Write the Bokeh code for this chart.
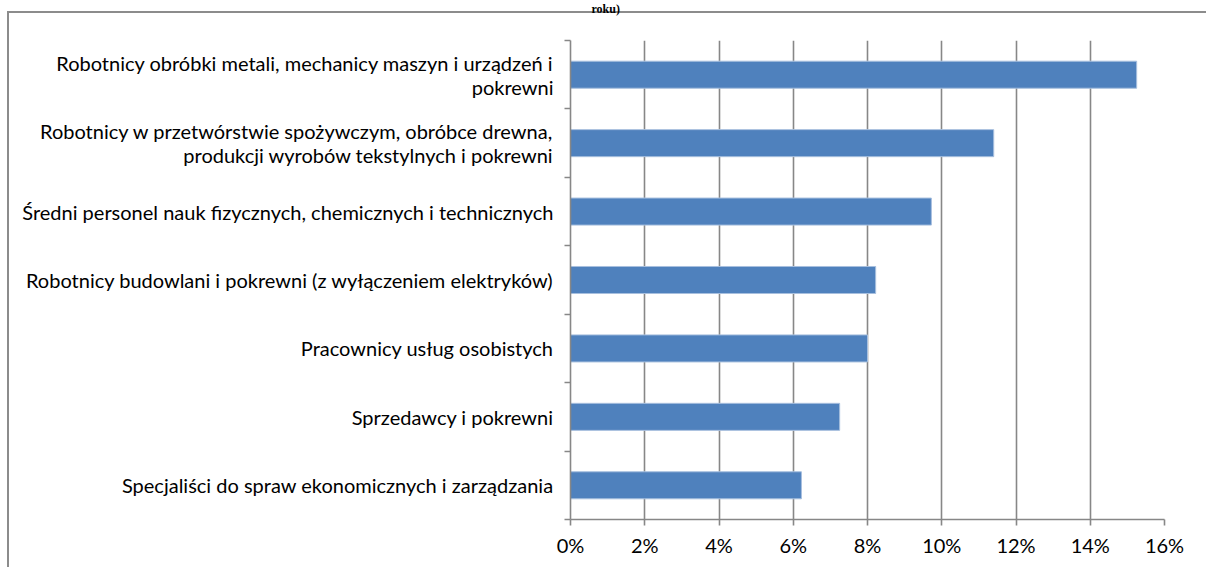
from bokeh.plotting import figure
from bokeh.models import (Range1d, FixedTicker, NumeralTickFormatter,
                          ColumnDataSource, Title)
from bokeh.embed import file_html
from bokeh.resources import INLINE

# ---- data -------------------------------------------------------------
categories = [
    "Robotnicy obróbki metali, mechanicy maszyn i urządzeń i\npokrewni",
    "Robotnicy w przetwórstwie spożywczym, obróbce drewna,\nprodukcji wyrobów tekstylnych i pokrewni",
    "Średni personel nauk fizycznych, chemicznych i technicznych",
    "Robotnicy budowlani i pokrewni (z wyłączeniem elektryków)",
    "Pracownicy usług osobistych",
    "Sprzedawcy i pokrewni",
    "Specjaliści do spraw ekonomicznych i zarządzania",
]
values = [0.1525, 0.1140, 0.0972, 0.0822, 0.0800, 0.0725, 0.0622]
x_ticks = [0.0, 0.02, 0.04, 0.06, 0.08, 0.10, 0.12, 0.14, 0.16]
title_text = "roku)"

# ---- styles -----------------------------------------------------------
FONT = "Lato"
GRID = "#878787"
BAR = "#4F81BD"
FRAME = "#8C8C8C"

n = len(categories)
ypos = [n - i - 0.5 for i in range(n)]
src = ColumnDataSource(dict(y=ypos, v=values, name=categories))

p = figure(width=1206, height=567,
           x_range=Range1d(0, x_ticks[-1]), y_range=Range1d(0, n),
           output_backend="svg", toolbar_location=None,
           min_border_left=570, min_border_right=42,
           min_border_top=40, min_border_bottom=48)
p.outline_line_color = None
p.background_fill_color = "white"
p.border_fill_color = None

# outer chart frame: only its left and top edges are in view
p.styles = {
    "background-color": "white",
    "background-image": f"linear-gradient({FRAME}, {FRAME}), linear-gradient({FRAME}, {FRAME})",
    "background-position": "7px 11px, 7px 11px",
    "background-size": "2px 600px, 1300px 2px",
    "background-repeat": "no-repeat, no-repeat",
}

# title, pushed to the very top by an empty spacer panel below it
p.add_layout(Title(text=" ", text_font_size="19px", standoff=0), "above")
p.add_layout(Title(text=title_text, align="left", offset=21,
                   vertical_align="top", standoff=0,
                   text_font="Liberation Serif", text_font_style="bold",
                   text_font_size="12px", text_color="black"), "above")

p.hbar(y="y", left=0, right="v", height=0.395, source=src,
       fill_color=BAR, line_color="#A7BFDE", line_width=1)

# x axis
xa = p.xaxis[0]
xa.ticker = FixedTicker(ticks=x_ticks, minor_ticks=[])
xa.formatter = NumeralTickFormatter(format="0%")
xa.axis_line_color = GRID
xa.axis_line_width = 1.6
xa.major_tick_line_color = GRID
xa.major_tick_line_width = 1.6
xa.major_tick_out = 6
xa.major_tick_in = 0
xa.minor_tick_line_color = None
xa.major_label_text_font = FONT
xa.major_label_text_font_size = "20px"
xa.major_label_text_color = "black"
xa.major_label_standoff = 7

# y axis (labels at centers, tick marks at category boundaries)
ya = p.yaxis[0]
ya.ticker = FixedTicker(ticks=ypos, minor_ticks=list(range(n + 1)))
ya.major_label_overrides = {y: c for y, c in zip(ypos, categories)}
ya.axis_line_color = GRID
ya.axis_line_width = 1.6
ya.major_tick_line_color = None
ya.major_tick_out = 0
ya.major_tick_in = 0
ya.minor_tick_line_color = GRID
ya.minor_tick_line_width = 1.6
ya.minor_tick_out = 6
ya.minor_tick_in = 0
ya.major_label_text_font = FONT
ya.major_label_text_font_size = "20px"
ya.major_label_text_color = "black"
ya.major_label_text_line_height = 1.0
ya.major_label_standoff = 11

p.xgrid.ticker = FixedTicker(ticks=x_ticks, minor_ticks=[])
p.xgrid.grid_line_color = GRID
p.xgrid.grid_line_width = 1.6
p.ygrid.grid_line_color = None

open("out.html", "w").write(file_html(p, INLINE))
